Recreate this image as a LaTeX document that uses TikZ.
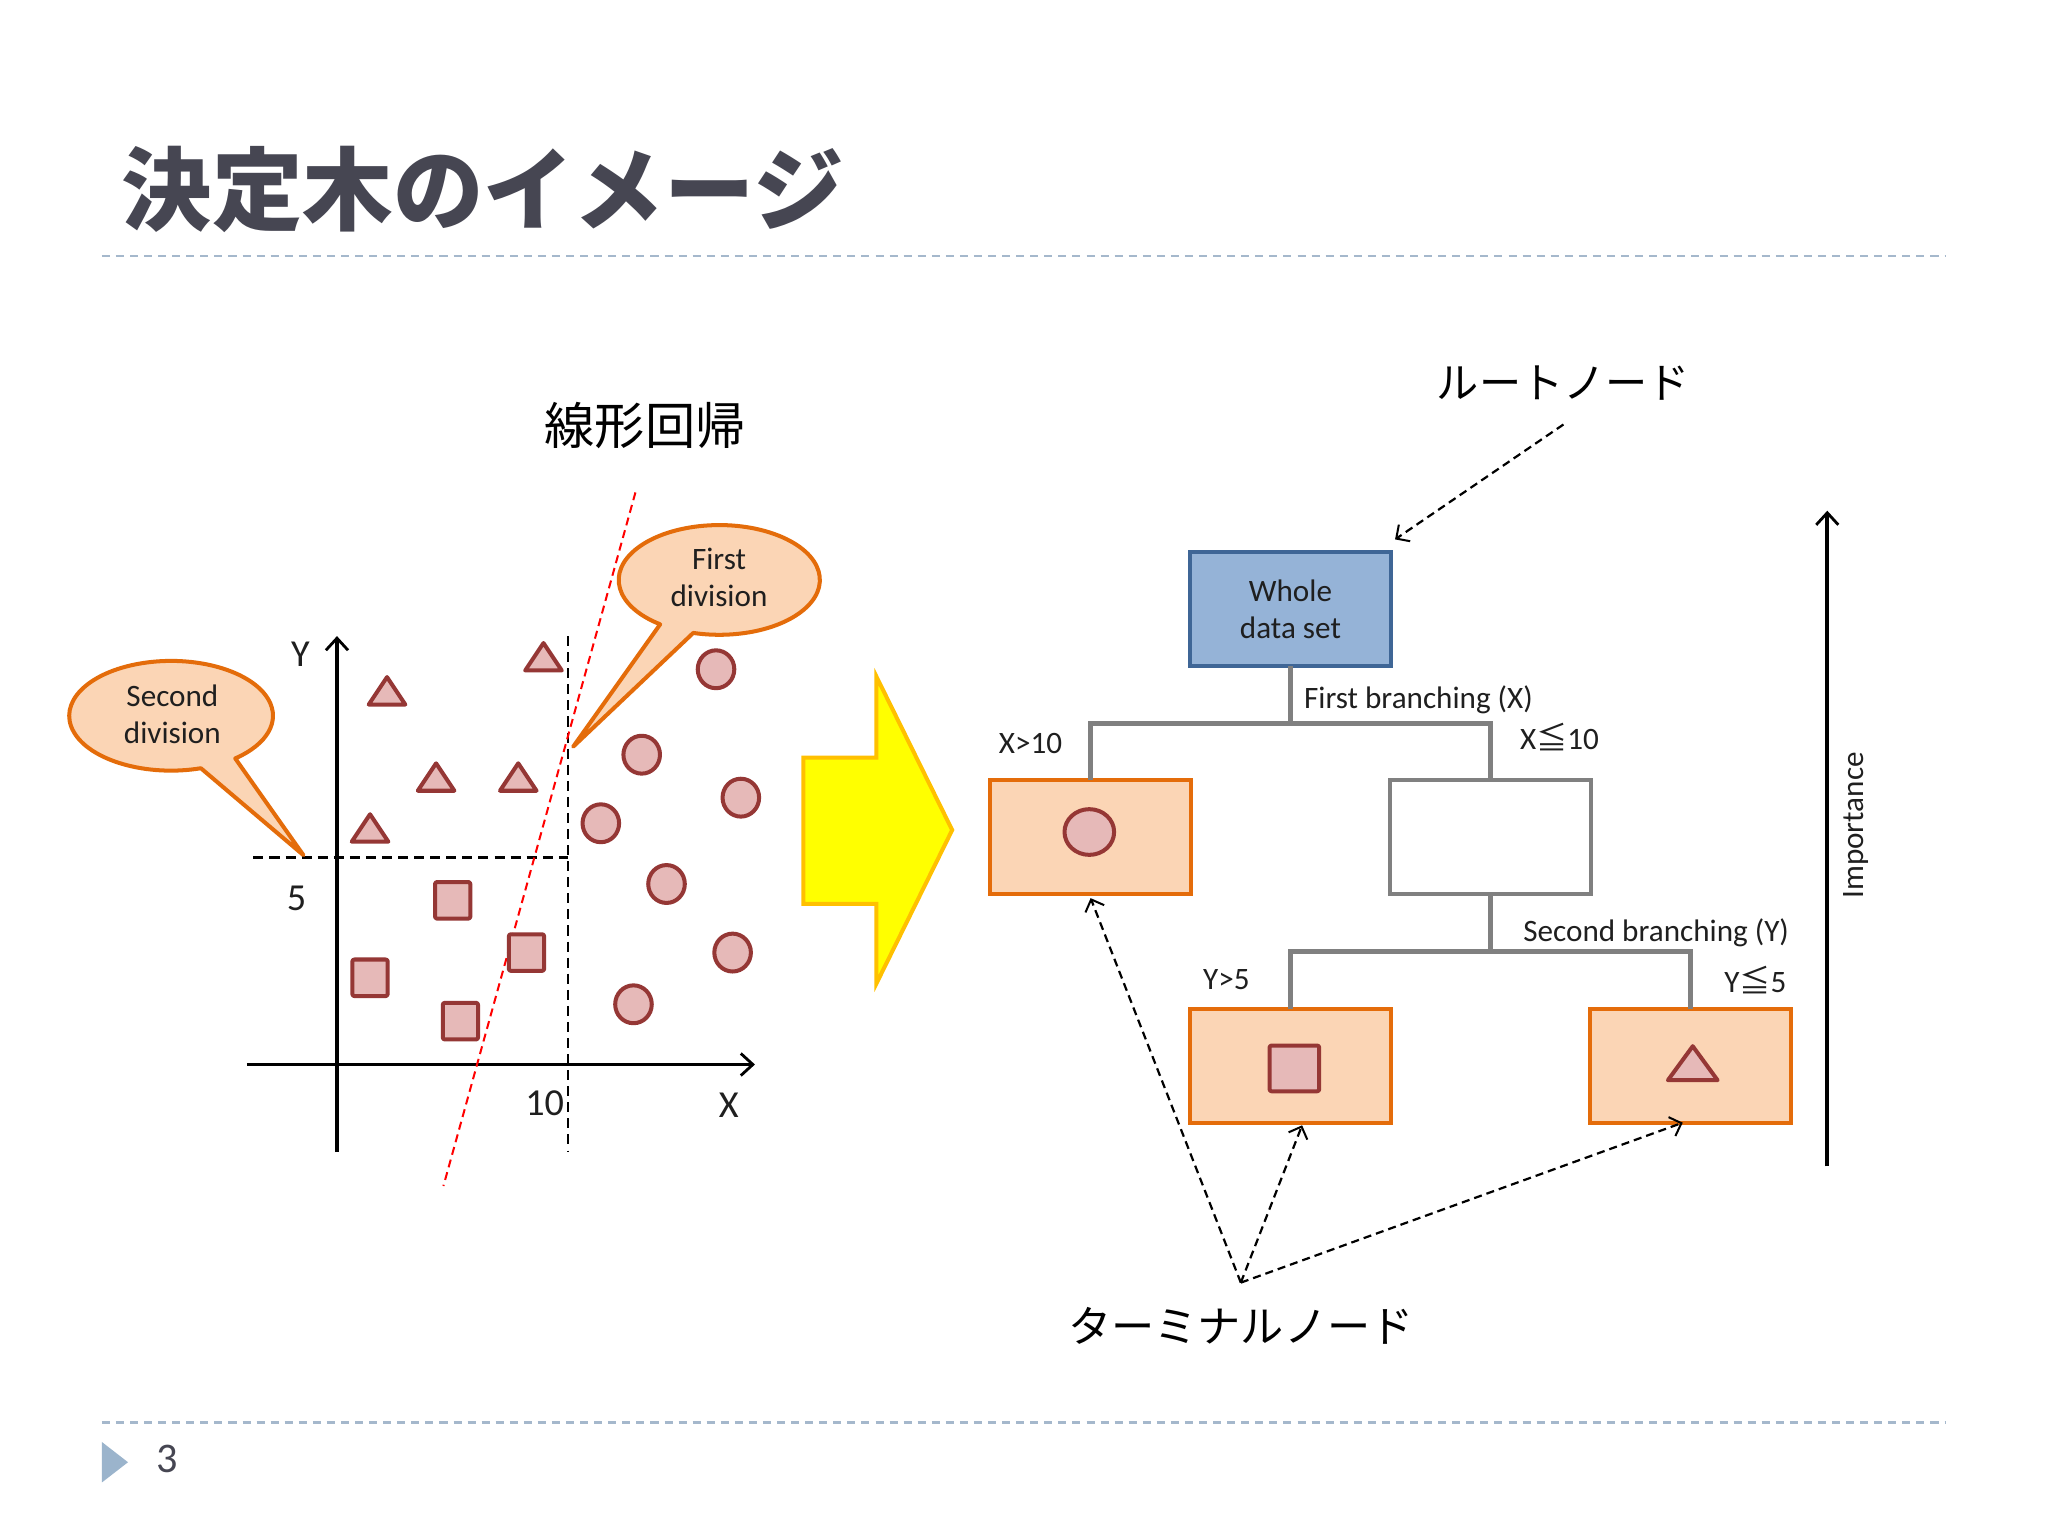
\documentclass[tikz,border=0pt]{standalone}
\usepackage{fontspec}
\setmainfont{Carlito}
\newfontfamily\cjk{Noto Sans CJK JP}
\usetikzlibrary{arrows.meta}
\definecolor{calfill}{HTML}{FBD5B5}
\definecolor{calline}{HTML}{E46C0A}
\definecolor{mkfill}{HTML}{E6B9B8}
\definecolor{mkline}{HTML}{953735}
\definecolor{rootfill}{HTML}{95B3D7}
\definecolor{rootline}{HTML}{3F6696}
\definecolor{connc}{HTML}{808080}
\definecolor{yelfill}{HTML}{FFFF00}
\definecolor{yelline}{HTML}{FFC000}
\definecolor{rulec}{HTML}{A5B8CC}
\definecolor{pagetri}{HTML}{9BB4CC}
\definecolor{titlec}{HTML}{464652}
\definecolor{txt}{HTML}{1F1F1F}
\newcommand\lblfont{\fontsize{15.5pt}{18.4pt}\selectfont}
\newcommand\axfont{\fontsize{19pt}{22pt}\selectfont}
\begin{document}
\begin{tikzpicture}[x=0.65pt, y=-0.65pt,
  mk/.style={draw=mkline, fill=mkfill, line width=2pt, line join=round},
  tri/.pic={\path[mk] (-14,10) -- (0,-11) -- (14,10) -- cycle;},
  sq/.pic={\path[mk, rounded corners=1pt] (-13.5,-14) rectangle (13.5,14);},
  circ/.pic={\path[mk] (0,0) ellipse[x radius=14, y radius=14.5];},
  btri/.pic={\path[mk] (-19,12) -- (0,-14) -- (19,12) -- cycle;},
  bsq/.pic={\path[mk, rounded corners=1pt] (-19,-17.5) rectangle (19,17.5);},
  bcirc/.pic={\path[mk] (0,0) ellipse[x radius=19, y radius=17.5];},
  rulestyle/.style={draw=rulec, line width=1.2pt, dash pattern=on 4pt off 3pt},
  axisline/.style={draw=black, line width=1.8pt, -{Straight Barb[length=6pt,width=11pt,line width=1.4pt]}},
  plotdash/.style={draw=black, line width=1.3pt, dash pattern=on 5pt off 3pt},
  callout/.style={draw=calline, fill=calfill, line width=2pt, line join=round},
  tbox/.style={minimum width=100.1pt, minimum height=56.6pt, inner sep=0pt, outer sep=0pt, line width=2pt},
  leaf/.style={tbox, draw=calline, fill=calfill},
  conn/.style={draw=connc, line width=2.3pt},
  darrow/.style={draw=black, line width=1.1pt, dash pattern=on 4pt off 2.5pt, -{Straight Barb[length=5pt,width=10pt,line width=1pt]}},
  lbl/.style={text=txt, font=\lblfont, inner sep=0pt},
  axl/.style={text=txt, font=\axfont, inner sep=0pt}
]
\useasboundingbox (0,0) rectangle (1568,1176);
\fill[white] (0,0) rectangle (1568,1176);

% title and rules
\node[anchor=west, text=titlec, inner sep=0pt] (title) at (93,145) {\cjk\bfseries\fontsize{45pt}{50pt}\selectfont 決定木のイメージ};
\draw[rulestyle] (78,196) -- (1490,196);
\draw[rulestyle] (78,1089) -- (1490,1089);
\fill[pagetri] (78,1104) -- (98,1119.5) -- (78,1135) -- cycle;
\node[text=titlec, inner sep=0pt] (pnum) at (128,1117) {\fontsize{21pt}{24pt}\selectfont 3};

% scatter plot
\draw[plotdash] (194,656.5) -- (435,656.5);
\draw[plotdash] (435,487) -- (435,882);
\draw[axisline] (189,815) -- (578,815);
\draw[axisline] (258,882) -- (258,487);
\draw[red, line width=1pt, dash pattern=on 4pt off 2.5pt] (486.5,377) -- (339.5,908);

\node[axl] (ylab) at (230,501) {Y};
\node[axl] (xlab) at (558,846) {X};
\node[axl] (five) at (227,688) {5};
\node[axl] (ten) at (417,845) {10};

\foreach \p in {(296.3,529.4),(416.1,503.3),(333.9,595.4),(396.8,595.4),(283.3,634.4)}
  \pic at \p {tri};
\foreach \p in {(346.6,689.3),(403.1,729.3),(283.3,748.6),(352.5,781.8)}
  \pic at \p {sq};
\foreach \p in {(548.2,512.4),(491.3,577.8),(567.2,610.7),(460.0,630.3),(510.3,676.8),(560.9,729.3),(485.0,768.9)}
  \pic at \p {circ};

% callouts
\path[callout] (550.7,444) ++(126:77 and 42) arc[start angle=126, end angle=465, x radius=77, y radius=42] -- (438.8,571.7) -- cycle;
\node[lbl, align=center] (firstdiv) at (550.5,442) {First\\division};
\path[callout] (131,548) ++(73:78 and 42) arc[start angle=73, end angle=411, x radius=78, y radius=42] -- (232.3,654.7) -- cycle;
\node[lbl, align=center] (seconddiv) at (132,547) {Second\\division};

\node[text=black, inner sep=0pt] (linreg) at (494,326) {\cjk\fontsize{25pt}{28pt}\selectfont 線形回帰};

% big yellow arrow
\path[draw=yelline, fill=yelfill, line width=2pt, line join=miter]
  (615,580) -- (671,580) -- (671,518) -- (729,635.5) -- (671,753) -- (671,692) -- (615,692) -- cycle;

% tree
\node[tbox, draw=rootline, fill=rootfill, text=txt, font=\lblfont, align=center] (root) at (988,466.5) {Whole\\data set};
\node[leaf] (L) at (835,641) {};
\node[tbox, draw=connc, fill=white] (M) at (1141,641) {};
\node[leaf] (BL) at (988,816) {};
\node[leaf] (BR) at (1294.5,816) {};
\pic at (834,637) {bcirc};
\pic at (991,818) {bsq};
\pic at (1296,815) {btri};

\draw[conn] (root.south) -- ++(0,44) -| (L.north);
\draw[conn] (root.south) -- ++(0,44) -| (M.north);
\draw[conn] (M.south) -- ++(0,44) -| (BL.north);
\draw[conn] (M.south) -- ++(0,44) -| (BR.north);

\node[lbl] (fb) at (1086,536) {First branching (X)};
\node[lbl] (xg) at (789,569) {X>10};
\node[lbl] (xl) at (1194,564) {X{\cjk ≦}10};
\node[lbl] (sb) at (1268,714) {Second branching (Y)};
\node[lbl] (yg) at (939,750) {Y>5};
\node[lbl] (yl) at (1344,750) {Y{\cjk ≦}5};

% root node label and arrow
\node[text=black, inner sep=0pt] (rootlbl) at (1197,293) {\cjk\fontsize{21pt}{24pt}\selectfont ルートノード};
\coordinate (ra) at (1197,325);
\draw[darrow] (ra) -- ([xshift=2pt,yshift=6.5pt]root.north east);

% terminal label and arrows
\node[text=black, inner sep=0pt] (termlbl) at (950,1015) {\cjk\fontsize{21.5pt}{24pt}\selectfont ターミナルノード};
\coordinate (tn) at (950,982);
\draw[darrow] (tn) -- ([yshift=-2pt]L.south);
\draw[darrow] (tn) -- ([xshift=5.8pt,yshift=-1.3pt]BL.south);
\draw[darrow] (tn) -- ([xshift=-4pt]BR.south);

% importance arrow
\coordinate (imp0) at (1399,893);
\coordinate (imp1) at (1399,391);
\draw[axisline] (imp0) -- (imp1);
\node[lbl, rotate=90] (implbl) at (1421,632) {Importance};
\end{tikzpicture}
\end{document}
